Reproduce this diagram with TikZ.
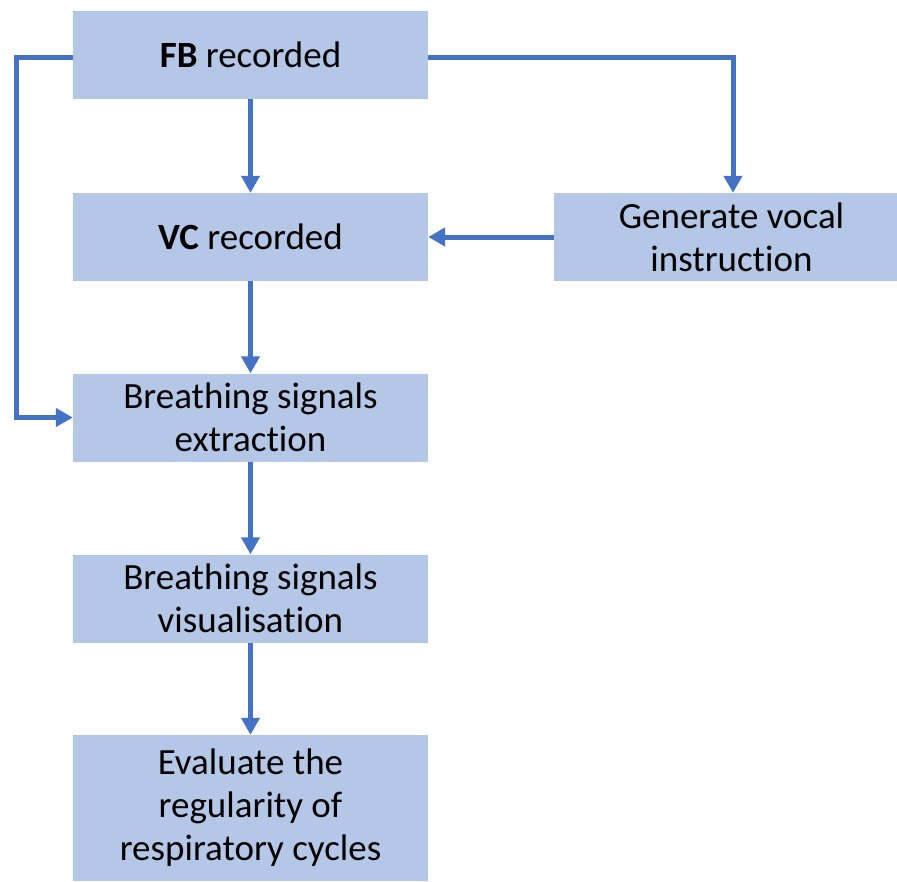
\documentclass[tikz,border=0pt]{standalone}
\usepackage{fontspec}
\setmainfont{Carlito}[Ligatures={NoCommon}]
\usetikzlibrary{arrows.meta}
\definecolor{boxfill}{HTML}{B4C7E7}
\definecolor{linec}{HTML}{4472C4}
\begin{document}
\begin{tikzpicture}[x=1pt,y=-1pt,
 box/.style={fill=boxfill, draw=none, align=center, font=\fontsize{37}{43}\selectfont, text=black, inner sep=0pt, minimum width=355pt, minimum height=88pt},
 conn/.style={draw=linec, line width=5pt, -{Triangle[length=17pt,width=18pt]}}]
\useasboundingbox (0,0) rectangle (897,881);
\clip (0,0) rectangle (897,881);
\node[box] (fb) at (250.5,55) {\textbf{FB} recorded};
\node[box] (vc) at (250.5,237) {\textbf{VC} recorded};
\node[box] (gen) at (731.5,237) {Generate vocal\\instruction};
\node[box] (ext) at (250.5,417.5) {Breathing signals\\extraction};
\node[box] (vis) at (250.5,598.5) {Breathing signals\\visualisation};
\node[box, minimum height=146pt] (ev) at (250.5,808) {Evaluate the\\regularity of\\respiratory cycles};
\coordinate (L1) at (16,57);
\coordinate (R1) at (733,57);
\draw[conn] (fb) -- (vc);
\draw[conn] (vc) -- (ext);
\draw[conn] (ext) -- (vis);
\draw[conn] (vis) -- (ev);
\draw[conn] (gen) -- (vc);
\draw[conn] ([yshift=-2pt]fb.west) -- (L1) |- (ext.west);
\draw[conn] ([yshift=-2pt]fb.east) -- (R1) -- (R1 |- gen.north);
\end{tikzpicture}
\end{document}
